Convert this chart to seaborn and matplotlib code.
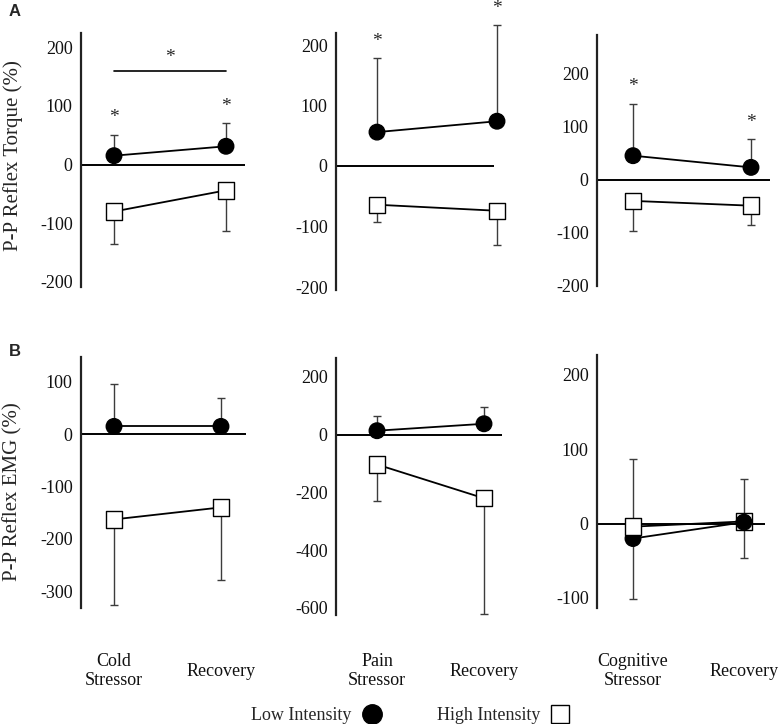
import numpy as np
import pandas as pd
import matplotlib
matplotlib.use("Agg")
import matplotlib.pyplot as plt
from matplotlib.lines import Line2D
import seaborn as sns

# ---------------- data ----------------
groups = ["Low Intensity", "High Intensity"]
phase_labels = [["Cold\nStressor", "Recovery"],
                ["Pain\nStressor", "Recovery"],
                ["Cognitive\nStressor", "Recovery"]]

torque_low = [[15, 31], [56, 74], [45, 23]]
torque_low_sd = [[36, 39], [123, 159], [98, 53]]
torque_high = [[-80, -44], [-64, -74], [-40, -49]]
torque_high_sd = [[56, 70], [29, 57], [57, 37]]
torque_sig = [[True, True], [True, True], [True, True]]
torque_bracket = [160, None, None]

emg_low = [[15, 15], [14, 38], [-20, 2]]
emg_low_sd = [[81, 54], [51, 59], [107, 58]]
emg_high = [[-163, -140], [-103, -220], [-4, 3]]
emg_high_sd = [[164, 138], [128, 400], [97, 49]]

torque_ticks = [[-200, -100, 0, 100, 200]] * 3
emg_ticks = [[-300, -200, -100, 0, 100],
             [-600, -400, -200, 0, 200],
             [-100, 0, 100, 200]]

row_titles = ["P-P Reflex Torque (%)", "P-P Reflex EMG (%)"]
panel_letters = ["A", "B"]

# ---------------- layout (pixels) ----------------
W, H = 780, 724
geom = [
    [dict(left=81, right=245, top=33, bottom=287, x0=114, x1=226, hi=(200, 47), lo=(-200, 282)),
     dict(left=336, right=494, top=33, bottom=290, x0=377, x1=497, hi=(200, 45), lo=(-200, 287)),
     dict(left=597, right=770, top=35, bottom=286, x0=633, x1=751, hi=(200, 74), lo=(-200, 291))],
    [dict(left=81, right=246, top=357, bottom=608, x0=114, x1=221, hi=(100, 382), lo=(-300, 591)),
     dict(left=336, right=502, top=358, bottom=615, x0=377, x1=484, hi=(200, 377), lo=(-600, 608)),
     dict(left=597, right=765, top=355, bottom=608, x0=633, x1=744, hi=(200, 375), lo=(-100, 598))],
]

sns.set_style("white")
plt.rcParams["font.family"] = ["Liberation Serif", "DejaVu Serif"]
plt.rcParams["axes.unicode_minus"] = False

fig = plt.figure(figsize=(W / 100, H / 100), dpi=100)

row_data = [
    (torque_low, torque_low_sd, torque_high, torque_high_sd, torque_ticks),
    (emg_low, emg_low_sd, emg_high, emg_high_sd, emg_ticks),
]

for r in range(2):
    lows, low_sds, highs, high_sds, ticks = row_data[r]
    for c in range(3):
        g = geom[r][c]
        ax = fig.add_axes([g["left"] / W, 1 - g["bottom"] / H,
                           (g["right"] - g["left"]) / W, (g["bottom"] - g["top"]) / H])
        unit = g["x1"] - g["x0"]
        ax.set_xlim((g["left"] - g["x0"]) / unit, (g["right"] - g["x0"]) / unit)
        (vh, ph), (vl, pl) = g["hi"], g["lo"]
        scale = (pl - ph) / (vh - vl)
        ax.set_ylim(vl - (g["bottom"] - pl) / scale, vh + (ph - g["top"]) / scale)

        low, low_sd = lows[c], low_sds[c]
        high, high_sd = highs[c], high_sds[c]

        # error bars (one-sided)
        ax.errorbar([0, 1], low, yerr=[[0, 0], low_sd], fmt="none", ecolor="#3c3c3c",
                    elinewidth=1.0, capsize=3.2, capthick=1.0, zorder=2, clip_on=False)
        ax.errorbar([0, 1], high, yerr=[high_sd, [0, 0]], fmt="none", ecolor="#3c3c3c",
                    elinewidth=1.0, capsize=3.2, capthick=1.0, zorder=2, clip_on=False)

        df = pd.DataFrame({
            "pos": [0, 1, 0, 1],
            "value": [low[0], high[1], high[0], low[1]],
            "group": [groups[0], groups[1], groups[1], groups[0]],
        })
        sns.lineplot(data=df, x="pos", y="value", units="group", estimator=None,
                     color="black", linewidth=1.3, ax=ax, zorder=3, legend=False)
        sns.scatterplot(data=df, x="pos", y="value", hue="group", style="group",
                        size="group", sizes={groups[0]: 125, groups[1]: 140},
                        markers={groups[0]: "o", groups[1]: "s"},
                        palette={groups[0]: "black", groups[1]: "white"},
                        edgecolor="black", linewidth=1.0, ax=ax, legend=False,
                        zorder=4, clip_on=False)

        ax.axhline(0, color="black", linewidth=1.4, zorder=1)

        # significance
        if r == 0:
            for i in range(2):
                if torque_sig[c][i]:
                    ax.annotate("*", xy=(i, low[i] + low_sd[i]), xytext=(0, 12),
                                textcoords="offset points", ha="center", va="center",
                                fontsize=14, annotation_clip=False)
            if torque_bracket[c] is not None:
                ax.plot([0, 1], [torque_bracket[c]] * 2, color="black", lw=1.2, clip_on=False)
                ax.annotate("*", xy=(0.5, torque_bracket[c]), xytext=(0, 9),
                            textcoords="offset points", ha="center", va="center",
                            fontsize=14, annotation_clip=False)

        sns.despine(ax=ax, top=True, right=True, bottom=True)
        ax.spines["left"].set_linewidth(1.6)
        ax.spines["left"].set_color("#222222")
        ax.set_yticks(ticks[c])
        ax.set_yticklabels([str(t) for t in ticks[c]])
        ax.tick_params(axis="y", length=0, pad=6, labelsize=13, labelcolor="#111111")
        ax.set_xlabel("")
        ax.set_ylabel("")
        if r == 1:
            ax.set_xticks([0, 1])
            ax.set_xticklabels(phase_labels[c], linespacing=1.2)
            for lab in ax.get_xticklabels():
                lab.set_verticalalignment("center")
            ax.tick_params(axis="x", length=0, pad=(671 - g["bottom"]) * 0.72,
                           labelsize=13, labelcolor="#111111")
        else:
            ax.set_xticks([])

# row titles and letters
fig.text(13 / W, 1 - 156 / H, row_titles[0], rotation=90, ha="center", va="center", fontsize=15)
fig.text(13 / W, 1 - 492 / H, row_titles[1], rotation=90, ha="center", va="center", fontsize=15)
fig.text(9 / W, 1 - 12 / H, panel_letters[0], ha="left", va="center", fontsize=12,
         fontweight="bold", family=["Liberation Sans", "DejaVu Sans"])
fig.text(9 / W, 1 - 352 / H, panel_letters[1], ha="left", va="center", fontsize=12,
         fontweight="bold", family=["Liberation Sans", "DejaVu Sans"])

handles = [
    Line2D([], [], marker="o", linestyle="none", markerfacecolor="black",
           markeredgecolor="black", markersize=14),
    Line2D([], [], marker="s", linestyle="none", markerfacecolor="white",
           markeredgecolor="black", markeredgewidth=1.0, markersize=13),
]
fig.legend(handles, groups, loc="center", bbox_to_anchor=(411 / W, 1 - 716 / H), ncol=2,
           frameon=False, markerfirst=False, handlelength=1.2, handletextpad=0.5,
           columnspacing=3.0, fontsize=13)

fig.savefig("out.png", dpi=100)
